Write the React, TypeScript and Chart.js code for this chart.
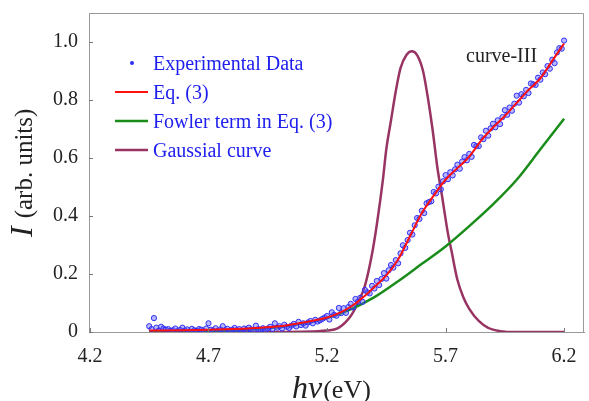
import { useEffect, useRef } from 'react';
import { Chart, registerables } from 'chart.js';

Chart.register(...registerables);

const xTicks = [4.2, 4.7, 5.2, 5.7, 6.2];
const xTickLabels = ['4.2', '4.7', '5.2', '5.7', '6.2'];
const yTicks = [0, 0.2, 0.4, 0.6, 0.8, 1.0];
const yTickLabels = ['0', '0.2', '0.4', '0.6', '0.8', '1.0'];

const legendLabels = ['Experimental Data', 'Eq. (3)', 'Fowler term in Eq. (3)', 'Gaussial curve'];
const curveLabel = 'curve-III';

const expX = [
  4.45, 4.46, 4.47, 4.48, 4.49, 4.5, 4.51, 4.52, 4.53, 4.54, 4.55, 4.56, 4.57, 4.58, 4.59, 4.6, 4.61, 4.62, 4.63, 4.64, 4.65, 4.66, 4.67, 4.68, 4.69,
  4.7, 4.71, 4.72, 4.73, 4.74, 4.75, 4.76, 4.77, 4.78, 4.79, 4.8, 4.81, 4.82, 4.83, 4.84, 4.85, 4.86, 4.87, 4.88, 4.89, 4.9, 4.91, 4.92, 4.93, 4.94,
  4.95, 4.96, 4.97, 4.98, 4.99, 5.0, 5.01, 5.02, 5.03, 5.04, 5.05, 5.06, 5.07, 5.08, 5.09, 5.1, 5.11, 5.12, 5.13, 5.14, 5.15, 5.16, 5.17, 5.18, 5.19,
  5.2, 5.21, 5.22, 5.23, 5.24, 5.25, 5.26, 5.27, 5.28, 5.29, 5.3, 5.31, 5.32, 5.33, 5.34, 5.35, 5.36, 5.37, 5.38, 5.39,
  5.4, 5.41, 5.42, 5.43, 5.44, 5.45, 5.46, 5.47, 5.48, 5.49, 5.5, 5.51, 5.52, 5.53, 5.54, 5.55, 5.56, 5.57, 5.58, 5.59,
  5.6, 5.61, 5.62, 5.63, 5.64, 5.65, 5.66, 5.67, 5.68, 5.69, 5.7, 5.71, 5.72, 5.73, 5.74, 5.75, 5.76, 5.77, 5.78, 5.79,
  5.8, 5.81, 5.82, 5.83, 5.84, 5.85, 5.86, 5.87, 5.88, 5.89, 5.9, 5.91, 5.92, 5.93, 5.94, 5.95, 5.96, 5.97, 5.98, 5.99,
  6.0, 6.01, 6.02, 6.03, 6.04, 6.05, 6.06, 6.07, 6.08, 6.09, 6.1, 6.11, 6.12, 6.13, 6.14, 6.15, 6.16, 6.17, 6.18, 6.19, 6.2,
];
const expY = [
  0.02, 0.01, 0.048, 0.015, 0.005, 0.018, 0.012, 0.008, 0.01, 0.004, 0.006, 0.012, 0.003, 0.007, 0.015, 0.005, 0.009, 0.002, 0.011, 0.006, 0.004, 0.01, 0.008, 0.003, 0.012,
  0.03, 0.008, 0.005, 0.013, 0.004, 0.009, 0.02, 0.006, 0.011, 0.003, 0.008, 0.014, 0.006, 0.01, 0.004, 0.012, 0.007, 0.015, 0.009, 0.005, 0.022, 0.01, 0.008, 0.013, 0.006,
  0.012, 0.018, 0.01, 0.03, 0.015, 0.02, 0.012, 0.025, 0.018, 0.014, 0.022, 0.028, 0.019, 0.035, 0.024, 0.03, 0.022, 0.033, 0.038, 0.03, 0.042, 0.036, 0.04, 0.045, 0.05,
  0.055, 0.043, 0.068, 0.059, 0.056, 0.083, 0.065, 0.082, 0.066, 0.086, 0.097, 0.085, 0.114, 0.104, 0.118, 0.104, 0.145, 0.137, 0.133, 0.159,
  0.15, 0.176, 0.162, 0.183, 0.203, 0.184, 0.213, 0.231, 0.222, 0.248, 0.237, 0.271, 0.299, 0.29, 0.317, 0.342, 0.336, 0.368, 0.393, 0.39,
  0.418, 0.41, 0.444, 0.448, 0.451, 0.483, 0.478, 0.501, 0.492, 0.52, 0.541, 0.527, 0.551, 0.54, 0.561, 0.577, 0.563, 0.588, 0.603, 0.592,
  0.614, 0.604, 0.645, 0.641, 0.641, 0.671, 0.665, 0.694, 0.677, 0.702, 0.718, 0.706, 0.73, 0.717, 0.741, 0.765, 0.749, 0.774, 0.763, 0.787,
  0.815, 0.791, 0.82, 0.813, 0.835, 0.824, 0.857, 0.854, 0.852, 0.877, 0.87, 0.895, 0.889, 0.917, 0.908, 0.939, 0.927, 0.964, 0.979, 0.977, 1.005,
];

const eqX = [4.45, 4.6, 4.7, 4.8, 4.9, 5.0, 5.1, 5.2, 5.25, 5.3, 5.35, 5.4, 5.45, 5.5, 5.55, 5.6, 5.65, 5.7, 5.75, 5.8, 5.85, 5.9, 5.95, 6.0, 6.05, 6.1, 6.15, 6.2];
const eqY = [0.005, 0.006, 0.008, 0.01, 0.014, 0.02, 0.033, 0.05, 0.065, 0.087, 0.118, 0.155, 0.195, 0.25, 0.33, 0.41, 0.47, 0.525, 0.565, 0.605, 0.66, 0.705, 0.745, 0.79, 0.835, 0.875, 0.935, 0.995];

const fowlerX = [4.45, 4.7, 4.9, 5.0, 5.1, 5.2, 5.3, 5.4, 5.5, 5.6, 5.7, 5.8, 5.9, 6.0, 6.1, 6.2];
const fowlerY = [0.0, 0.003, 0.01, 0.017, 0.03, 0.048, 0.078, 0.12, 0.175, 0.235, 0.295, 0.365, 0.44, 0.525, 0.63, 0.735];

const gaussX = [4.45, 5.0, 5.2, 5.25, 5.3, 5.33, 5.36, 5.39, 5.41, 5.435, 5.45, 5.47, 5.49, 5.51, 5.535, 5.557, 5.58, 5.605, 5.625, 5.645, 5.665, 5.685, 5.71, 5.725, 5.75, 5.775, 5.8, 5.84, 5.88, 5.93, 6.0, 6.2];
const gaussY = [0, 0, 0.005, 0.015, 0.055, 0.1, 0.16, 0.27, 0.37, 0.52, 0.63, 0.73, 0.83, 0.91, 0.955, 0.968, 0.955, 0.9, 0.81, 0.7, 0.57, 0.47, 0.34, 0.28, 0.18, 0.12, 0.08, 0.038, 0.014, 0.003, 0, 0];

const BLUE = '#2f2ff5';
const RED = '#ff1010';
const GREEN = '#198c19';
const MAROON = '#983463';
const SERIF = '"Liberation Serif", "Times New Roman", serif';

const pts = (xs: number[], ys: number[]) => xs.map((x, i) => ({ x, y: ys[i] }));

const decorPlugin = {
  id: 'decor',
  afterDraw(chart: any) {
    const ctx = chart.ctx as CanvasRenderingContext2D;
    const { left, right, top, bottom } = chart.chartArea;
    const xs = chart.scales.x;
    const ys = chart.scales.y;
    ctx.save();
    // frame top & right
    ctx.strokeStyle = '#9a9a9a';
    ctx.lineWidth = 1;
    ctx.beginPath();
    ctx.moveTo(left, top + 0.5);
    ctx.lineTo(right - 0.5, top + 0.5);
    ctx.lineTo(right - 0.5, bottom);
    ctx.stroke();
    // inward ticks
    ctx.strokeStyle = '#777';
    ctx.beginPath();
    xTicks.forEach((v) => {
      const p = Math.round(xs.getPixelForValue(v)) + 0.5;
      ctx.moveTo(p, bottom);
      ctx.lineTo(p, bottom - 4);
    });
    yTicks.forEach((v) => {
      const p = Math.round(ys.getPixelForValue(v)) + 0.5;
      ctx.moveTo(left, p);
      ctx.lineTo(left + 4, p);
    });
    ctx.stroke();

    // legend
    const colors = [BLUE, RED, GREEN, MAROON];
    ctx.font = `20px ${SERIF}`;
    ctx.textBaseline = 'alphabetic';
    ctx.textAlign = 'left';
    legendLabels.forEach((lab, i) => {
      const base = top + 57 + i * 29;
      const my = base - 7;
      if (i === 0) {
        ctx.fillStyle = BLUE;
        ctx.beginPath();
        ctx.arc(left + 43, my, 2, 0, Math.PI * 2);
        ctx.fill();
      } else {
        ctx.strokeStyle = colors[i];
        ctx.lineWidth = i === 1 ? 2 : 2.5;
        ctx.beginPath();
        ctx.moveTo(left + 26, my);
        ctx.lineTo(left + 59, my);
        ctx.stroke();
      }
      ctx.fillStyle = '#2020ee';
      ctx.fillText(lab, left + 64, base);
    });

    // curve label
    ctx.fillStyle = '#222';
    ctx.font = `20px ${SERIF}`;
    ctx.fillText(curveLabel, right - 118, top + 49);

    // x title
    ctx.fillStyle = '#222';
    ctx.font = `italic 32px ${SERIF}`;
    const hvW = ctx.measureText('hv').width;
    const xStart = left + 203;
    ctx.fillText('hv', xStart, 398);
    ctx.font = `26px ${SERIF}`;
    ctx.fillText('(eV)', xStart + hvW + 1, 398);

    // y title
    ctx.translate(32, 237);
    ctx.rotate(-Math.PI / 2);
    ctx.font = `italic 32px ${SERIF}`;
    ctx.fillText('I', 0, 0);
    const iW = ctx.measureText('I').width;
    ctx.font = `25px ${SERIF}`;
    ctx.fillText('(arb. units)', iW + 8, 0);
    ctx.restore();
  },
};

export default function App() {
  const ref = useRef<HTMLCanvasElement | null>(null);
  useEffect(() => {
    if (!ref.current) return;
    const chart = new Chart(ref.current, {
      type: 'scatter',
      data: {
        datasets: [
          {
            label: legendLabels[1],
            data: pts(eqX, eqY),
            showLine: true,
            borderColor: RED,
            borderWidth: 2,
            pointRadius: 0,
            cubicInterpolationMode: 'monotone',
            order: 0,
          },
          {
            label: legendLabels[0],
            data: pts(expX, expY),
            showLine: false,
            pointRadius: 2.6,
            pointBorderWidth: 1,
            pointBorderColor: BLUE,
            pointBackgroundColor: 'rgba(80,80,255,0.4)',
            order: 1,
          },
          {
            label: legendLabels[2],
            data: pts(fowlerX, fowlerY),
            showLine: true,
            borderColor: GREEN,
            borderWidth: 2.5,
            pointRadius: 0,
            cubicInterpolationMode: 'monotone',
            order: 2,
          },
          {
            label: legendLabels[3],
            data: pts(gaussX, gaussY),
            showLine: true,
            borderColor: MAROON,
            borderWidth: 2.5,
            pointRadius: 0,
            cubicInterpolationMode: 'monotone',
            order: 3,
          },
        ],
      },
      options: {
        responsive: false,
        animation: false,
        devicePixelRatio: 1,
        layout: { padding: { left: 0, top: 13, right: 3, bottom: 0 } },
        plugins: { legend: { display: false }, tooltip: { enabled: false } },
        scales: {
          x: {
            type: 'linear',
            min: 4.196,
            max: 6.284,
            afterFit: (s: any) => { s.height = 69; s.paddingLeft = 0; s.paddingRight = 0; s.paddingTop = 0; s.paddingBottom = 0; },
            afterBuildTicks: (s: any) => { s.ticks = xTicks.map((v) => ({ value: v })); },
            grid: { display: true, drawOnChartArea: false, drawTicks: false },
            border: { display: true, color: '#9a9a9a', width: 1 },
            ticks: {
              padding: 13,
              color: '#222',
              font: { family: SERIF, size: 20 },
              maxRotation: 0,
              callback: (v: any) => { const i = xTicks.indexOf(Number(v)); return i >= 0 ? xTickLabels[i] : ''; },
            },
          },
          y: {
            type: 'linear',
            min: 0,
            max: 1.1,
            afterFit: (s: any) => { s.width = 89; s.paddingTop = 0; s.paddingBottom = 0; s.paddingLeft = 0; s.paddingRight = 0; },
            afterBuildTicks: (s: any) => { s.ticks = yTicks.map((v) => ({ value: v })); },
            grid: { display: true, drawOnChartArea: false, drawTicks: false },
            border: { display: true, color: '#9a9a9a', width: 1 },
            ticks: {
              padding: 11,
              color: '#222',
              font: { family: SERIF, size: 20 },
              callback: (v: any) => { const i = yTicks.findIndex((t) => Math.abs(t - Number(v)) < 1e-9); return i >= 0 ? yTickLabels[i] : ''; },
            },
          },
        },
      },
      plugins: [decorPlugin],
    } as any);
    return () => chart.destroy();
  }, []);
  return (
    <div style={{ position: 'fixed', left: 0, top: 0, width: 589, height: 401, background: '#fff' }}>
      <canvas ref={ref} width={589} height={401} style={{ display: 'block', width: 589, height: 401 }} />
    </div>
  );
}
